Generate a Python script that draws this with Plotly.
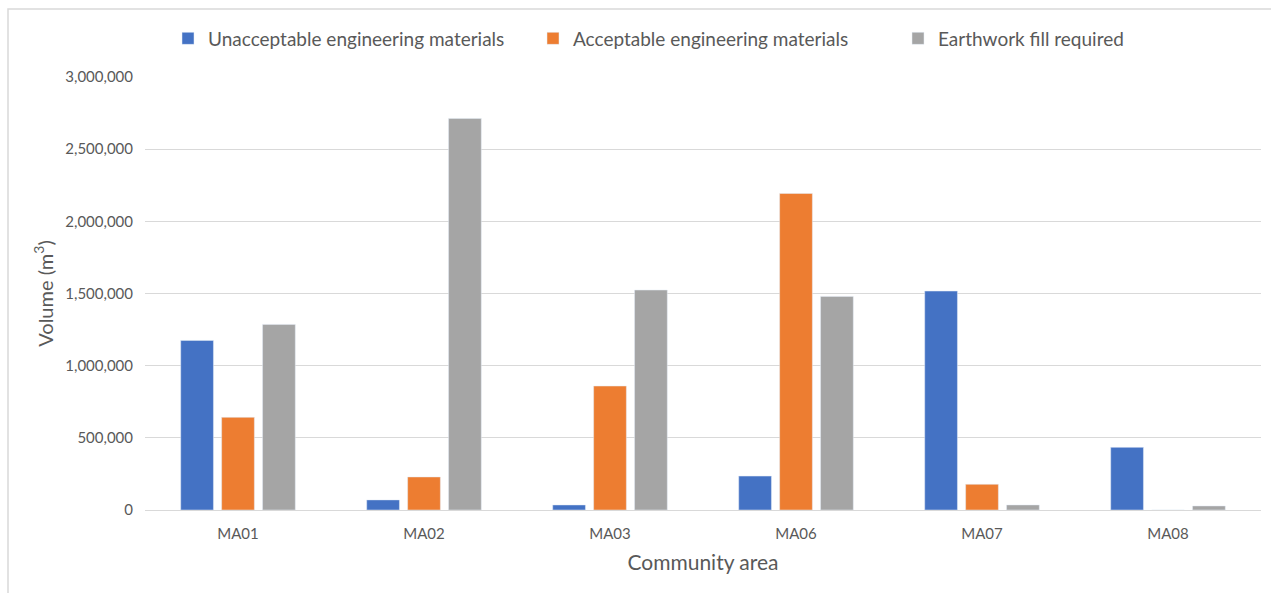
import plotly.graph_objects as go

categories = ["MA01", "MA02", "MA03", "MA06", "MA07", "MA08"]
unacceptable = [1175000, 70000, 35000, 235000, 1517000, 434000]
acceptable = [642000, 229000, 859000, 2193000, 178000, 0]
earthwork_fill = [1286000, 2713000, 1524000, 1480000, 35000, 28000]
y_ticks = [0, 500000, 1000000, 1500000, 2000000, 2500000, 3000000]

FONT = "Lato"
TXT = "#595959"

W, H = 1271, 593
L, R, T, B = 145, 10, 77, 83
PW, PH = W - L - R, H - T - B

fig = go.Figure()
fig.add_bar(x=categories, y=unacceptable, name="Unacceptable engineering materials",
            marker_color="#4472C4")
fig.add_bar(x=categories, y=acceptable, name="Acceptable engineering materials",
            marker_color="#ED7D31")
fig.add_bar(x=categories, y=earthwork_fill, name="Earthwork fill required",
            marker_color="#A5A5A5")

fig.update_layout(
    width=W, height=H,
    margin=dict(l=L, r=R, t=T, b=B),
    paper_bgcolor="white", plot_bgcolor="white",
    barmode="group", bargap=0.34, bargroupgap=0.2,
    font=dict(family=FONT, color=TXT),
    legend=dict(orientation="h", xref="container", yref="container",
                x=168 / W, xanchor="left", y=1 - 38.5 / H, yanchor="middle",
                font=dict(size=19, color=TXT), itemwidth=30,
                entrywidth=320, entrywidthmode="pixels",
                traceorder="normal"),
)
# outer chart frame (light grey), left/top visible, extends past right/bottom
fig.add_shape(type="rect", xref="paper", yref="paper",
              x0=(8 - L) / PW, x1=(W + 10 - L) / PW,
              y0=-(B + 10) / PH, y1=1 + (T - 9) / PH,
              line=dict(color="#d9d9d9", width=1.5), layer="below")

fig.update_xaxes(
    title=dict(text="Community area", font=dict(size=21, color=TXT), standoff=14),
    tickfont=dict(size=15, color=TXT), showline=True, linecolor="#d9d9d9",
    linewidth=1, ticks="outside", ticklen=10, tickcolor="rgba(0,0,0,0)",
    showgrid=False,
)
fig.update_yaxes(
    title=dict(text="Volume (m<sup>3</sup>)", font=dict(size=20, color=TXT), standoff=6),
    range=[0, 3000000], tickvals=y_ticks, tickformat=",d",
    tickfont=dict(size=15, color=TXT), showgrid=True, gridcolor="#d9d9d9",
    gridwidth=1, zeroline=True, zerolinecolor="#d9d9d9", zerolinewidth=1,
    ticks="outside", ticklen=8, tickcolor="rgba(0,0,0,0)",
)

fig.write_html("out.html")
